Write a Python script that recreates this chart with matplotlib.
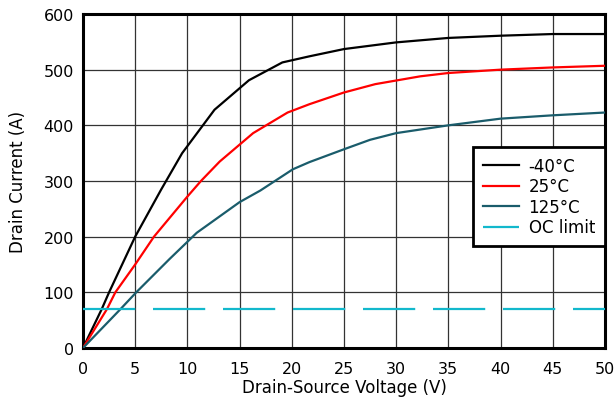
import matplotlib
matplotlib.use("Agg")
import matplotlib.pyplot as plt

plt.rcParams['font.family'] = ['DejaVu Sans']

# Datos
v_m40 = [0, 1.8, 2.5, 5.0, 7.5, 9.5, 12.6, 15.9, 19.1, 21.7, 25, 30, 35, 40, 45, 50]
i_m40 = [0, 70, 100, 200, 285, 350, 428, 481, 513, 524, 537, 549, 557, 561, 564, 564]

v_25 = [0, 2.3, 3.1, 5.0, 6.8, 10.0, 11.3, 13.1, 16.3, 19.6, 21.7, 25, 28, 32.3, 35, 40, 45, 50]
i_25 = [0, 70, 100, 150, 200, 272, 300, 335, 386, 423, 438, 459, 474, 488, 494, 500, 504, 507]

v_125 = [0, 3.6, 5.1, 8.3, 10.9, 15, 17, 20.1, 21.7, 25, 27.5, 30, 35, 40, 45, 50]
i_125 = [0, 70, 100, 160, 207, 262, 283, 321, 334, 357, 374, 386, 400, 412, 418, 423]

v_oc = [0, 50]
i_oc = [70, 70]

fig = plt.figure(figsize=(6.16, 4.02), dpi=100)
ax = fig.add_axes([0.1347, 0.1318, 0.982 - 0.1347, 0.9627 - 0.1318])

ax.plot(v_m40, i_m40, color='black', lw=1.6, label='-40°C', zorder=3)
ax.plot(v_25, i_25, color='#ff0000', lw=1.6, label='25°C', zorder=3)
ax.plot(v_125, i_125, color='#1a5c6b', lw=1.6, label='125°C', zorder=3)
ax.plot(v_oc, i_oc, color='#12b8cc', lw=1.6, linestyle=(0, (23.5, 8.0)),
        label='OC limit', zorder=3)

ax.set_xlim(0, 50)
ax.set_ylim(0, 600)
ax.set_xticks(range(0, 51, 5))
ax.set_yticks(range(0, 601, 100))
ax.grid(True, color='#333333', lw=0.9)
ax.set_axisbelow(True)
ax.tick_params(length=0, labelsize=11.5)
ax.tick_params(axis='x', pad=9)
ax.tick_params(axis='y', pad=6.5)

for s in ax.spines.values():
    s.set_linewidth(2.2)
    s.set_color('black')

ax.set_xlabel('Drain-Source Voltage (V)', fontsize=12, va='center')
ax.set_ylabel('Drain Current (A)', fontsize=12, va='center')
ax.xaxis.set_label_coords(0.5, -0.118)
ax.yaxis.set_label_coords(-0.1236, 0.5)

leg = ax.legend(loc='upper right', bbox_to_anchor=(1.0, 0.602), borderaxespad=0,
                fancybox=False, framealpha=1, edgecolor='black', fontsize=12,
                handlelength=2.15, handletextpad=0.6, labelspacing=0.15,
                borderpad=0.6)
leg.get_frame().set_linewidth(2.0)

fig.savefig('out.png', dpi=100)
